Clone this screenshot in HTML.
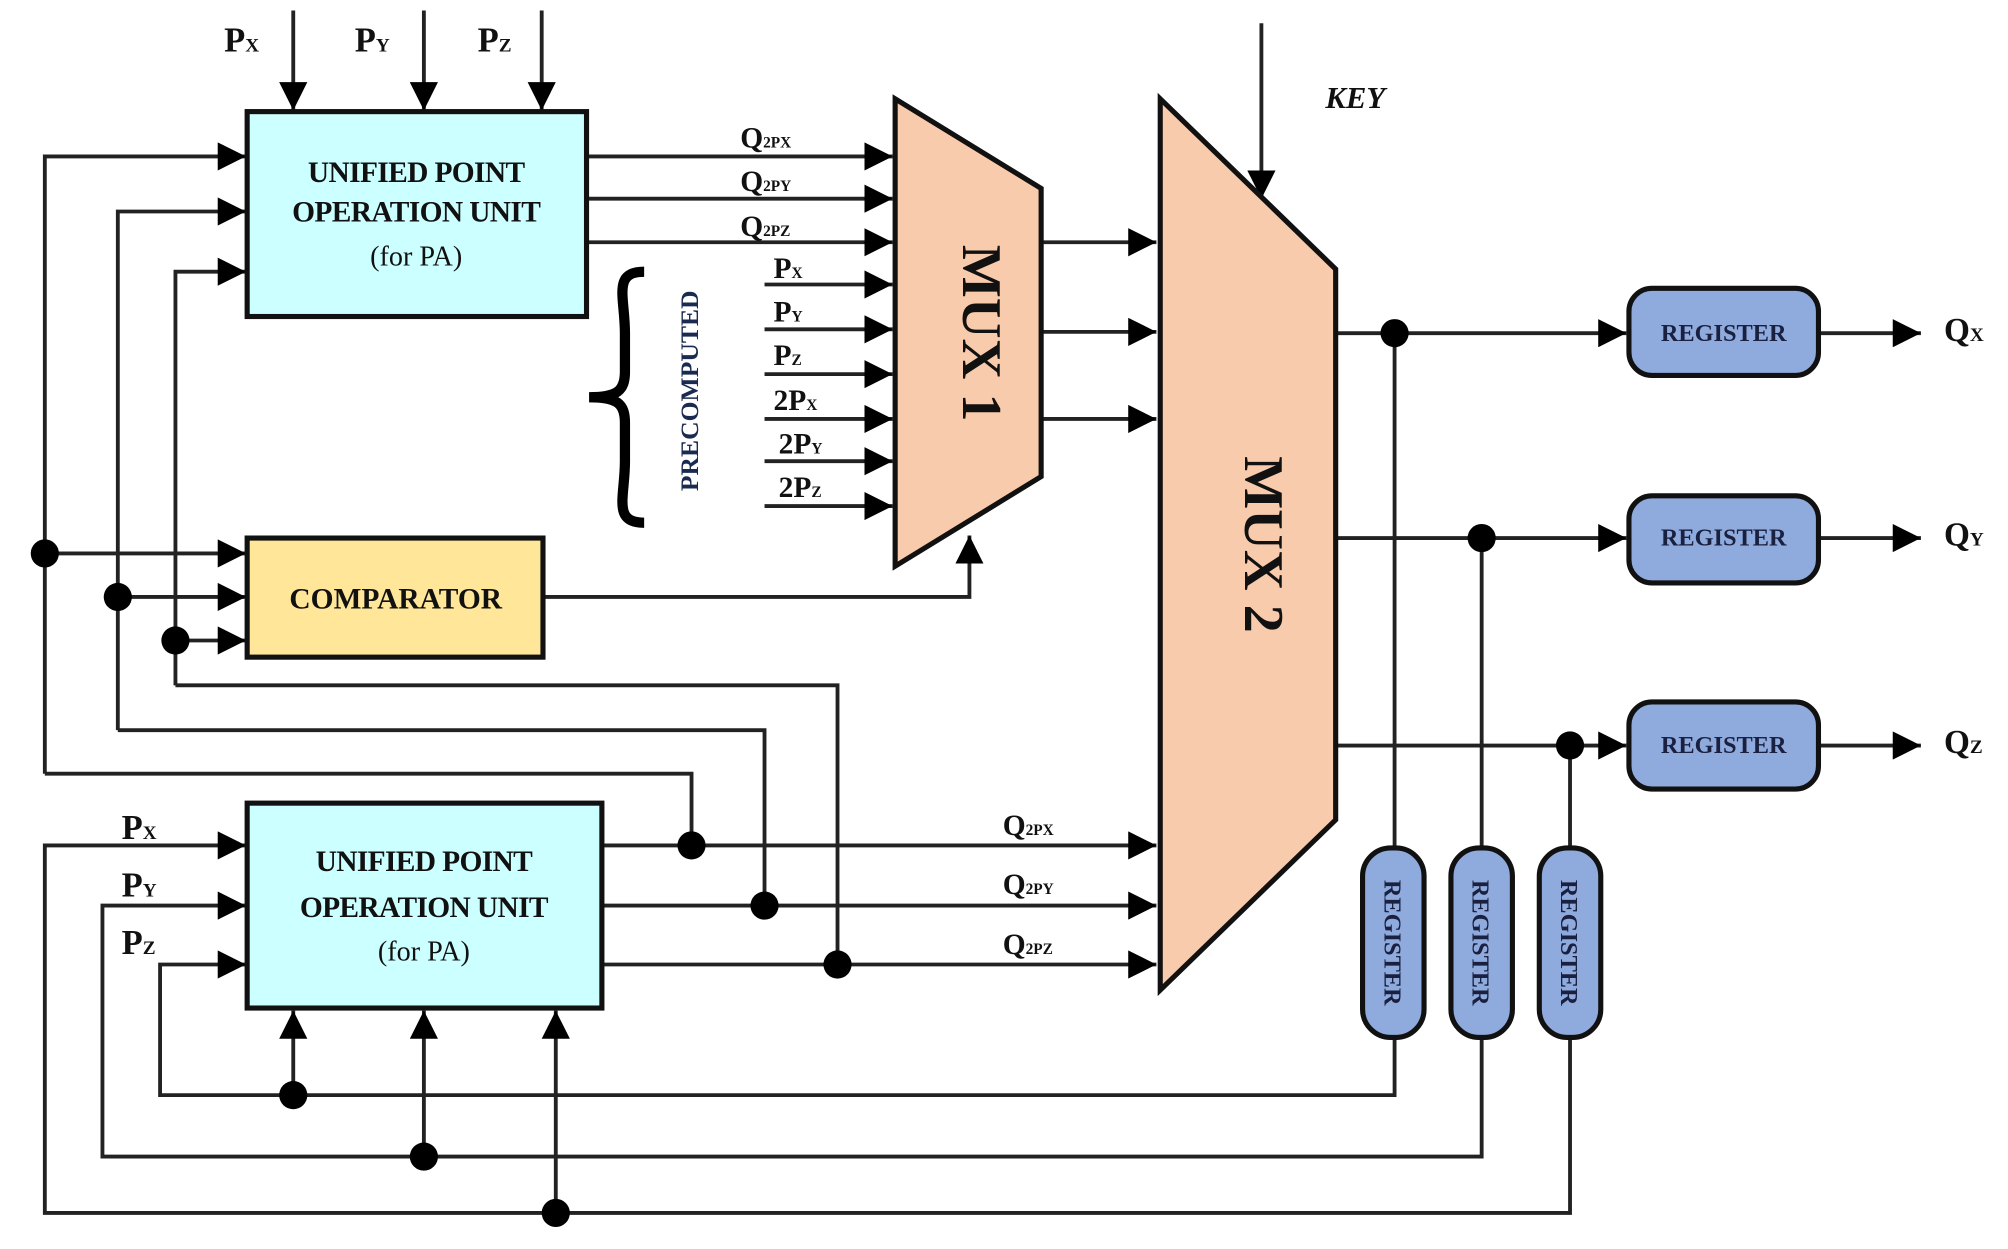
<!DOCTYPE html>
<html><head><style>html,body{margin:0;padding:0;background:#fff;}svg{display:block;}</style></head>
<body>
<svg width="2008" height="1249" viewBox="0 0 1568 975" xmlns="http://www.w3.org/2000/svg" font-family="Liberation Serif, serif">
<defs>
<marker id="a" viewBox="0 0 10 10" refX="10" refY="5" markerWidth="22" markerHeight="22" markerUnits="userSpaceOnUse" orient="auto"><path d="M0,0 L10,5 L0,10 z" fill="#000"/></marker>
</defs>
<g stroke="#222" stroke-width="3" fill="none">
<line x1="229" y1="8" x2="229" y2="86" marker-end="url(#a)"/>
<line x1="331" y1="8" x2="331" y2="86" marker-end="url(#a)"/>
<line x1="423" y1="8" x2="423" y2="86" marker-end="url(#a)"/>
<polyline points="35,604 35,122 192,122" marker-end="url(#a)"/>
<polyline points="35,604 540,604 540,660"/>
<polyline points="92,570 92,165 192,165" marker-end="url(#a)"/>
<polyline points="92,570 597,570 597,707"/>
<polyline points="137,535 137,212 192,212" marker-end="url(#a)"/>
<polyline points="137,535 654,535 654,753"/>
<line x1="35" y1="432" x2="192" y2="432" marker-end="url(#a)"/>
<line x1="92" y1="466" x2="192" y2="466" marker-end="url(#a)"/>
<line x1="137" y1="500" x2="192" y2="500" marker-end="url(#a)"/>
<polyline points="424,466 757,466 757,418" marker-end="url(#a)"/>
<line x1="458" y1="122" x2="697" y2="122" marker-end="url(#a)"/>
<line x1="458" y1="155" x2="697" y2="155" marker-end="url(#a)"/>
<line x1="458" y1="189" x2="697" y2="189" marker-end="url(#a)"/>
<line x1="597" y1="222" x2="697" y2="222" marker-end="url(#a)"/>
<line x1="597" y1="257" x2="697" y2="257" marker-end="url(#a)"/>
<line x1="597" y1="292" x2="697" y2="292" marker-end="url(#a)"/>
<line x1="597" y1="327" x2="697" y2="327" marker-end="url(#a)"/>
<line x1="597" y1="360" x2="697" y2="360" marker-end="url(#a)"/>
<line x1="597" y1="395" x2="697" y2="395" marker-end="url(#a)"/>
<line x1="813" y1="189" x2="903" y2="189" marker-end="url(#a)"/>
<line x1="813" y1="259" x2="903" y2="259" marker-end="url(#a)"/>
<line x1="813" y1="327" x2="903" y2="327" marker-end="url(#a)"/>
<line x1="985" y1="18" x2="985" y2="155" marker-end="url(#a)"/>
<line x1="470" y1="660" x2="903" y2="660" marker-end="url(#a)"/>
<line x1="470" y1="707" x2="903" y2="707" marker-end="url(#a)"/>
<line x1="470" y1="753" x2="903" y2="753" marker-end="url(#a)"/>
<line x1="1043" y1="260" x2="1270" y2="260" marker-end="url(#a)"/>
<line x1="1043" y1="420" x2="1270" y2="420" marker-end="url(#a)"/>
<line x1="1043" y1="582" x2="1270" y2="582" marker-end="url(#a)"/>
<line x1="1420" y1="260" x2="1500" y2="260" marker-end="url(#a)"/>
<line x1="1420" y1="420" x2="1500" y2="420" marker-end="url(#a)"/>
<line x1="1420" y1="582" x2="1500" y2="582" marker-end="url(#a)"/>
<line x1="1089" y1="260" x2="1089" y2="662"/>
<line x1="1157" y1="420" x2="1157" y2="662"/>
<line x1="1226" y1="582" x2="1226" y2="662"/>
<polyline points="1089,808 1089,855 125,855 125,753 192,753" marker-end="url(#a)"/>
<polyline points="1157,808 1157,903 80,903 80,707 192,707" marker-end="url(#a)"/>
<polyline points="1226,808 1226,947 35,947 35,660 192,660" marker-end="url(#a)"/>
<line x1="229" y1="855" x2="229" y2="789" marker-end="url(#a)"/>
<line x1="331" y1="903" x2="331" y2="789" marker-end="url(#a)"/>
<line x1="434" y1="947" x2="434" y2="789" marker-end="url(#a)"/>
</g>
<rect x="193" y="87" width="265" height="160" fill="#ccffff" stroke="#111" stroke-width="4"/>
<rect x="193" y="627" width="277" height="160" fill="#ccffff" stroke="#111" stroke-width="4"/>
<rect x="193" y="420" width="231" height="93" fill="#ffe699" stroke="#111" stroke-width="4"/>
<polygon points="699,77 813,147 813,372 699,442" fill="#f8cbad" stroke="#111" stroke-width="4"/>
<polygon points="906,77 1043,210 1043,640 906,773" fill="#f8cbad" stroke="#111" stroke-width="4"/>
<g fill="#8faadc" stroke="#111" stroke-width="4">
<rect x="1272" y="225" width="148" height="68" rx="18"/>
<rect x="1272" y="387" width="148" height="68" rx="18"/>
<rect x="1272" y="548" width="148" height="68" rx="18"/>
<rect x="1064" y="662" width="48" height="148" rx="22"/>
<rect x="1133" y="662" width="48" height="148" rx="22"/>
<rect x="1202" y="662" width="48" height="148" rx="22"/>
</g>
<g fill="#000">
<circle cx="35" cy="432" r="11"/><circle cx="92" cy="466" r="11"/><circle cx="137" cy="500" r="11"/>
<circle cx="540" cy="660" r="11"/><circle cx="597" cy="707" r="11"/><circle cx="654" cy="753" r="11"/>
<circle cx="229" cy="855" r="11"/><circle cx="331" cy="903" r="11"/><circle cx="434" cy="947" r="11"/>
<circle cx="1089" cy="260" r="11"/><circle cx="1157" cy="420" r="11"/><circle cx="1226" cy="582" r="11"/>
</g>
<path d="M503,212 C478,212 488,232 488,260 L488,290 C488,305 482,310 460,310 C482,310 488,315 488,330 L488,360 C488,388 478,408 503,408" fill="none" stroke="#000" stroke-width="8"/>
<g font-weight="bold" fill="#111">
<text x="325" y="142" font-size="23" text-anchor="middle" letter-spacing="-0.5">UNIFIED POINT</text>
<text x="325" y="173" font-size="23" text-anchor="middle" letter-spacing="-0.5">OPERATION UNIT</text>
<text x="325" y="207" font-size="22" text-anchor="middle" font-weight="normal">(for PA)</text>
<text x="331" y="680" font-size="23" text-anchor="middle" letter-spacing="-0.5">UNIFIED POINT</text>
<text x="331" y="716" font-size="23" text-anchor="middle" letter-spacing="-0.5">OPERATION UNIT</text>
<text x="331" y="750" font-size="22" text-anchor="middle" font-weight="normal">(for PA)</text>
<text x="309" y="475" font-size="23" text-anchor="middle">COMPARATOR</text>
<text transform="translate(752,260) rotate(90)" font-size="44" text-anchor="middle">MUX 1</text>
<text transform="translate(972,425) rotate(90)" font-size="44" text-anchor="middle">MUX 2</text>
<text transform="translate(545,305) rotate(-90)" font-size="20" text-anchor="middle" fill="#1a2a50">PRECOMPUTED</text>
<text x="1035" y="84" font-size="24" font-style="italic">KEY</text>
<g font-size="19" text-anchor="middle" fill="#1a2040">
<text x="1346" y="266">REGISTER</text><text x="1346" y="426">REGISTER</text><text x="1346" y="588">REGISTER</text>
<text transform="translate(1081,736) rotate(90)">REGISTER</text>
<text transform="translate(1150,736) rotate(90)">REGISTER</text>
<text transform="translate(1219,736) rotate(90)">REGISTER</text>
</g>
<g font-size="26"><text x="1518" y="266">Q<tspan font-size="15">X</tspan></text><text x="1518" y="426">Q<tspan font-size="15">Y</tspan></text><text x="1518" y="588">Q<tspan font-size="15">Z</tspan></text></g>
</g>
<g fill="#111" font-size="27" font-weight="bold">
<text x="175" y="40">P<tspan font-size="15">X</tspan></text>
<text x="277" y="40">P<tspan font-size="15">Y</tspan></text>
<text x="373" y="40">P<tspan font-size="15">Z</tspan></text>
<text x="95" y="655">P<tspan font-size="15">X</tspan></text>
<text x="95" y="700">P<tspan font-size="15">Y</tspan></text>
<text x="95" y="745">P<tspan font-size="15">Z</tspan></text>
</g>
<g fill="#111" font-size="23" font-weight="bold">
<text x="578" y="115">Q<tspan font-size="12">2PX</tspan></text>
<text x="578" y="149">Q<tspan font-size="12">2PY</tspan></text>
<text x="578" y="184">Q<tspan font-size="12">2PZ</tspan></text>
<text x="604" y="217">P<tspan font-size="12">X</tspan></text>
<text x="604" y="251">P<tspan font-size="12">Y</tspan></text>
<text x="604" y="285">P<tspan font-size="12">Z</tspan></text>
<text x="604" y="320">2P<tspan font-size="12">X</tspan></text>
<text x="608" y="354">2P<tspan font-size="12">Y</tspan></text>
<text x="608" y="388">2P<tspan font-size="12">Z</tspan></text>
<text x="783" y="652">Q<tspan font-size="12">2PX</tspan></text>
<text x="783" y="698">Q<tspan font-size="12">2PY</tspan></text>
<text x="783" y="745">Q<tspan font-size="12">2PZ</tspan></text>
</g>
</svg>
</body></html>
